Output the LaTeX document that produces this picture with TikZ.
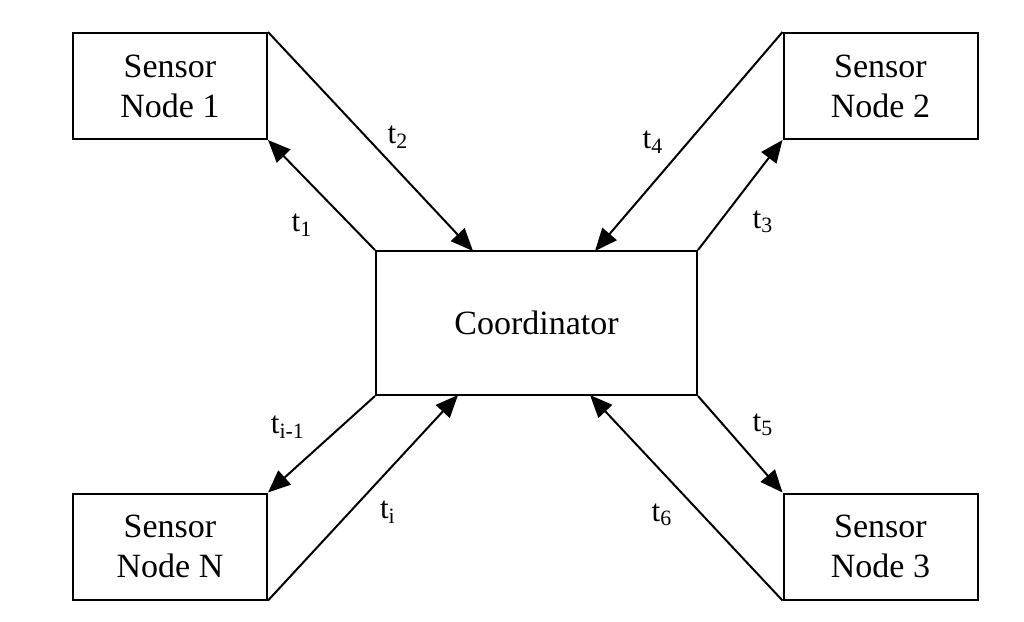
\documentclass[tikz,border=0pt]{standalone}
\usepackage{fontspec}
\setmainfont{Liberation Serif}
\usetikzlibrary{arrows.meta}
\tikzset{
	box/.style={draw, line width=0.8pt, inner sep=0pt, align=center, font=\fontsize{13.6}{16}\selectfont},
	sensor/.style={box, minimum width=77.6pt, minimum height=42.4pt},
	link/.style={line width=0.8pt, -{Triangle[length=9pt,width=7.5pt]}},
	lbl/.style={font=\fontsize{12.5}{14}\selectfont},
}
\begin{document}
\begin{tikzpicture}[x=0.4pt, y=-0.4pt]
	\useasboundingbox (0,0) rectangle (1024,621);
	
	% Draw nodes
	\node[sensor] (n1) at (170,86) {Sensor\\Node 1};
	\node[sensor] (n2) at (880.5,86) {Sensor\\Node 2};
	\node[sensor] (nN) at (170,546.5) {Sensor\\Node N};
	\node[sensor] (n3) at (880.5,546.5) {Sensor\\Node 3};
	\node[box, minimum width=128.4pt, minimum height=57.6pt] (coord) at (536.5,323) {Coordinator};
	
	% Arrow ends on the coordinator
	\coordinate (c2) at (473,251);
	\coordinate (c4) at (595,251);
	\coordinate (ci) at (458,395);
	\coordinate (c6) at (590,395);
	
	% Draw links
	\draw[link] (coord.north west) -- (n1.south east); % t1
	\draw[link] (n1.north east) -- (c2); % t2
	\draw[link] (coord.north east) -- (n2.south west); % t3
	\draw[link] (n2.north west) -- (c4); % t4
	\draw[link] (coord.south west) -- (nN.north east); % t(i-1)
	\draw[link] (nN.south east) -- (ci); % t(i)
	\draw[link] (coord.south east) -- (n3.north west); % t5
	\draw[link] (n3.south west) -- (c6); % t6
	
	% Add labels
	\node[lbl] (l1) at (302,225) {t\textsubscript{1}};
	\node[lbl] (l2) at (398,137) {t\textsubscript{2}};
	\node[lbl] (l3) at (763,222) {t\textsubscript{3}};
	\node[lbl] (l4) at (653,142) {t\textsubscript{4}};
	\node[lbl] (li1) at (288,427) {t\textsubscript{i-1}};
	\node[lbl] (li) at (388,512) {t\textsubscript{i}};
	\node[lbl] (l5) at (763,425) {t\textsubscript{5}};
	\node[lbl] (l6) at (662,515) {t\textsubscript{6}};
\end{tikzpicture}
\end{document}
